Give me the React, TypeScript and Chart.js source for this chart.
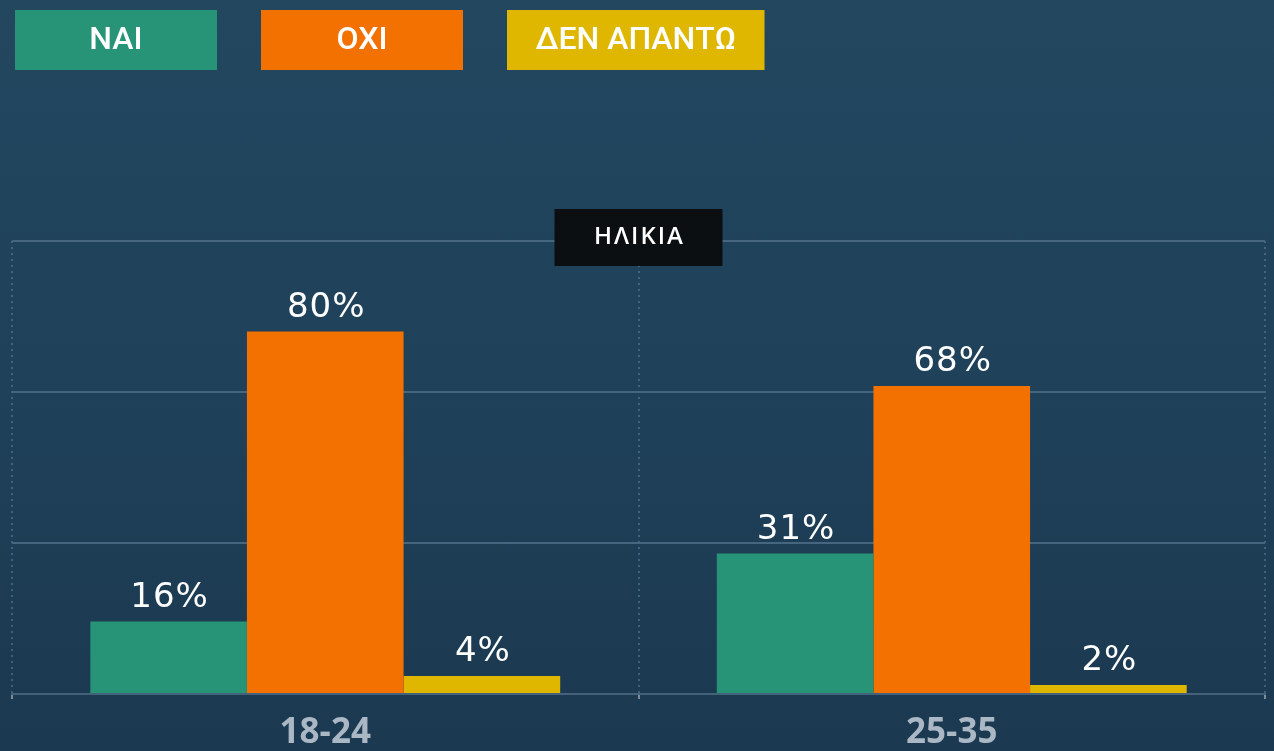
import React, { useEffect, useRef } from "react";
import { Chart, registerables } from "chart.js";

Chart.register(...registerables);

const categories = ["18-24", "25-35"];
const seriesNames = ["ΝΑΙ", "ΟΧΙ", "ΔΕΝ ΑΠΑΝΤΩ"];
const naiValues = [16, 31];
const oxiValues = [80, 68];
const denValues = [4, 2];
const yTickValues = [0, 100 / 3, 200 / 3, 100];
const panelTitle = "ΗΛΙΚΙΑ";
const seriesColors = ["#279377", "#f27100", "#dfb700"];

const legendPlugin = {
  id: "boxLegend",
  afterDraw(chart: any) {
    const ctx = chart.ctx;
    const ds = chart.data.datasets;
    let x = 15;
    const y = 10;
    const h = 60;
    ctx.save();
    ctx.font = "500 32px Roboto, 'Liberation Sans', sans-serif";
    ds.forEach((d: any) => {
      const tw = ctx.measureText(d.label).width;
      const w = Math.max(202, tw + 57);
      ctx.fillStyle = d.backgroundColor;
      ctx.fillRect(x, y, w, h);
      ctx.fillStyle = "#ffffff";
      ctx.textAlign = "center";
      ctx.textBaseline = "middle";
      ctx.fillText(d.label, x + w / 2, y + h / 2 + 1);
      x += w + 44;
    });
    ctx.restore();
  },
};

const titlePlugin = {
  id: "panelTitle",
  afterDraw(chart: any) {
    const ctx = chart.ctx;
    const area = chart.chartArea;
    const cx = (area.left + area.right) / 2;
    const w = 168;
    const h = 57;
    const top = area.top - 32;
    ctx.save();
    ctx.fillStyle = "#0b0f12";
    ctx.fillRect(cx - w / 2, top, w, h);
    ctx.fillStyle = "#ffffff";
    ctx.font = "600 24px 'Open Sans', sans-serif";
    (ctx as any).letterSpacing = "2px";
    ctx.textAlign = "center";
    ctx.textBaseline = "middle";
    ctx.fillText(panelTitle, cx + 1, top + h / 2);
    ctx.restore();
  },
};

const valueLabelPlugin = {
  id: "valueLabels",
  afterDatasetsDraw(chart: any) {
    const ctx = chart.ctx;
    ctx.save();
    ctx.fillStyle = "#ffffff";
    ctx.font = "34px 'DejaVu Sans', sans-serif";
    (ctx as any).letterSpacing = "1px";
    ctx.textAlign = "center";
    ctx.textBaseline = "alphabetic";
    chart.data.datasets.forEach((d: any, di: number) => {
      const meta = chart.getDatasetMeta(di);
      meta.data.forEach((bar: any, i: number) => {
        ctx.fillText(d.data[i] + "%", bar.x + 1, bar.y - 15);
      });
    });
    ctx.restore();
  },
};

export default function App() {
  const ref = useRef<HTMLCanvasElement | null>(null);
  useEffect(() => {
    if (!ref.current) return;
    const chart = new Chart(ref.current, {
      type: "bar",
      data: {
        labels: categories,
        datasets: [
          { label: seriesNames[0], data: naiValues, backgroundColor: seriesColors[0] },
          { label: seriesNames[1], data: oxiValues, backgroundColor: seriesColors[1] },
          { label: seriesNames[2], data: denValues, backgroundColor: seriesColors[2] },
        ],
      },
      options: {
        responsive: false,
        animation: false,
        devicePixelRatio: 1,
        layout: { padding: { top: 241, left: 12, right: 9, bottom: -16 } },
        datasets: {
          bar: { categoryPercentage: 0.75, barPercentage: 1.0, borderWidth: 0 },
        },
        plugins: {
          legend: { display: false },
          tooltip: { enabled: false },
          title: { display: false },
        },
        scales: {
          x: {
            offset: true,
            grid: {
              display: true,
              offset: true,
              color: "rgba(95,130,158,0.55)",
              lineWidth: 2,
              drawTicks: true,
              tickLength: 5,
              tickColor: "#7d8c99",
              tickWidth: 2,
            },
            border: { display: true, color: "#44637b", width: 2, dash: [2, 4] },
            ticks: {
              color: "#aab7c4",
              font: { family: "'Open Sans', sans-serif", size: 35, weight: "bold" },
              padding: 13,
            },
          },
          y: {
            min: 0,
            max: 100,
            afterBuildTicks: (scale: any) => {
              scale.ticks = yTickValues.map((v) => ({ value: v }));
            },
            grid: { color: "#46667f", lineWidth: 2, drawTicks: false },
            border: { display: false },
            ticks: { display: false },
          },
        },
      },
      plugins: [valueLabelPlugin, titlePlugin, legendPlugin],
    });
    return () => chart.destroy();
  }, []);
  return (
    <div
      style={{
        position: "fixed",
        left: 0,
        top: 0,
        width: 1274,
        height: 751,
        background: "linear-gradient(180deg, #22475f 0%, #1f415a 50%, #1b3950 100%)",
      }}
    >
      <canvas ref={ref} width={1274} height={751} style={{ display: "block" }} />
    </div>
  );
}
